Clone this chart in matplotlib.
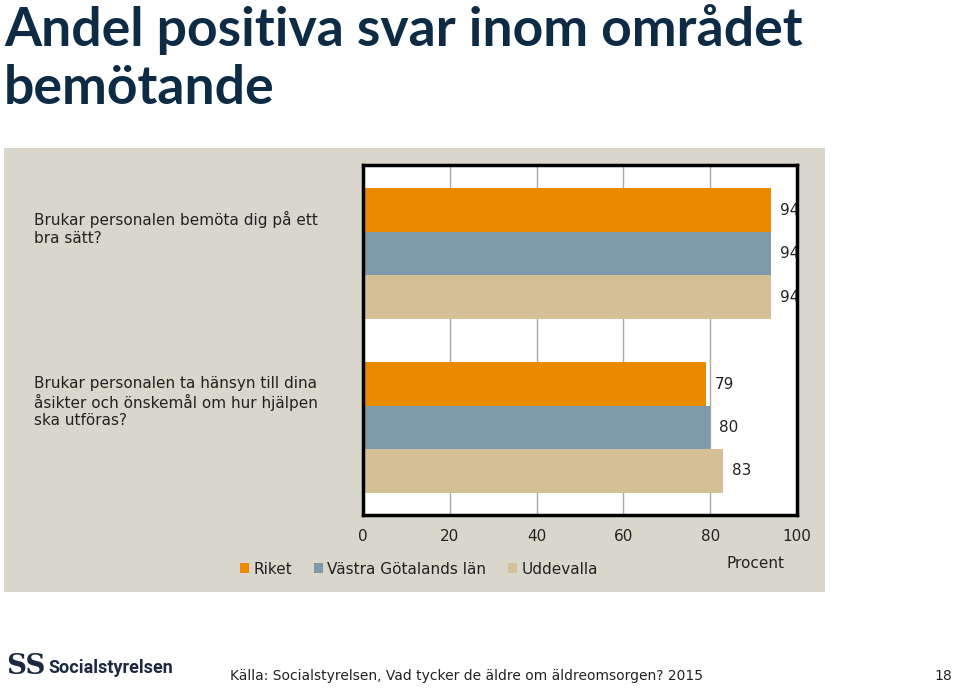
import matplotlib
matplotlib.use("Agg")
import matplotlib.pyplot as plt
from matplotlib.patches import Rectangle, Patch
from matplotlib.transforms import blended_transform_factory
import numpy as np

# ---- data ----
title_lines = ["Andel positiva svar inom området", "bemötande"]
categories = [
    "Brukar personalen bemöta dig på ett\nbra sätt?",
    "Brukar personalen ta hänsyn till dina\nåsikter och önskemål om hur hjälpen\nska utföras?",
]
series_names = ["Riket", "Västra Götalands län", "Uddevalla"]
riket = [94, 79]
vastra_gotaland = [94, 80]
uddevalla = [94, 83]
x_ticks = [0, 20, 40, 60, 80, 100]
x_label = "Procent"
source = "Källa: Socialstyrelsen, Vad tycker de äldre om äldreomsorgen? 2015"
page_no = "18"

colors = ["#E98A00", "#7D9AAB", "#D4BF96"]
panel_color = "#D9D7CC"
title_color = "#0E2B45"
font = "DejaVu Sans"

W, H = 959, 688
fig = plt.figure(figsize=(W / 100, H / 100), dpi=100)
fig.patch.set_facecolor("white")

def fx(px):
    return px / W

def fy(py):
    return 1 - py / H

# gray panel
fig.patches.append(Rectangle((fx(4), fy(592)), fx(825) - fx(4), fy(148) - fy(592),
                             transform=fig.transFigure, facecolor=panel_color,
                             edgecolor="none", zorder=-10))

# title
for line, base in zip(title_lines, [46, 104]):
    fig.text(fx(4), fy(base), line, ha="left", va="baseline", fontsize=38.5,
             fontweight="bold", color=title_color, family="Lato")

# axes
ax = fig.add_axes([fx(363), fy(515), fx(797) - fx(363), fy(165) - fy(515)])
ax.set_zorder(1)
ax.set_facecolor("white")
ypos = np.arange(len(categories))
bh = 0.25
all_series = [riket, vastra_gotaland, uddevalla]
for i, (vals, c) in enumerate(zip(all_series, colors)):
    y = ypos + (i - 1) * bh
    ax.barh(y, vals, height=bh, color=c, edgecolor="none", zorder=2,
            label=series_names[i])
    for yy, v in zip(y, vals):
        ax.text(v + 2, yy, f"{v}", ha="left", va="center", fontsize=11,
                color="#222222", family=font, zorder=3, clip_on=True)

ax.set_xlim(0, 100)
ax.set_ylim(1.503, -0.509)
ax.set_xticks(x_ticks)
ax.set_xticklabels([str(t) for t in x_ticks], fontsize=11, family=font, color="#222222")
ax.tick_params(axis="x", length=0, pad=10)
ax.set_yticks([])
ax.grid(axis="x", color="#A8A8A8", linewidth=1, zorder=1)
for s in ax.spines.values():
    s.set_linewidth(2.5)
    s.set_color("black")
    s.set_zorder(4)

# category labels
tr = blended_transform_factory(fig.transFigure, ax.transData)
for yc, lab in zip(ypos, categories):
    ax.text(fx(34), yc - 0.145, lab, transform=tr, ha="left", va="center",
            fontsize=11, color="#222222", family=font, linespacing=1.2, clip_on=False)

# x label
fig.text(fx(755), fy(563), x_label, ha="center", va="center", fontsize=11,
         color="#222222", family=font)

# legend
handles = [Patch(facecolor=c, edgecolor="none") for c in colors]
leg = fig.legend(handles, series_names, loc="center left",
                 bbox_to_anchor=(fx(226), fy(569)), ncol=3, frameon=False,
                 handlelength=0.6, handleheight=0.6, handletextpad=0.3,
                 columnspacing=1.4, prop={"family": font, "size": 11})
for t in leg.get_texts():
    t.set_color("#222222")

# footer
fig.text(fx(6), fy(666), "SS", ha="left", va="center", fontsize=20, fontweight="bold",
         color="#1B2A40", family="DejaVu Serif")
fig.text(fx(48), fy(668), "Socialstyrelsen", ha="left", va="center", fontsize=13,
         fontweight="bold", color="#1B2A40", family="Roboto")
fig.text(fx(230), fy(676), source, ha="left", va="center", fontsize=10,
         color="#222222", family=font)
fig.text(fx(952), fy(676), page_no, ha="right", va="center", fontsize=10,
         color="#222222", family=font)

fig.savefig("out.png", dpi=100, facecolor="white")
